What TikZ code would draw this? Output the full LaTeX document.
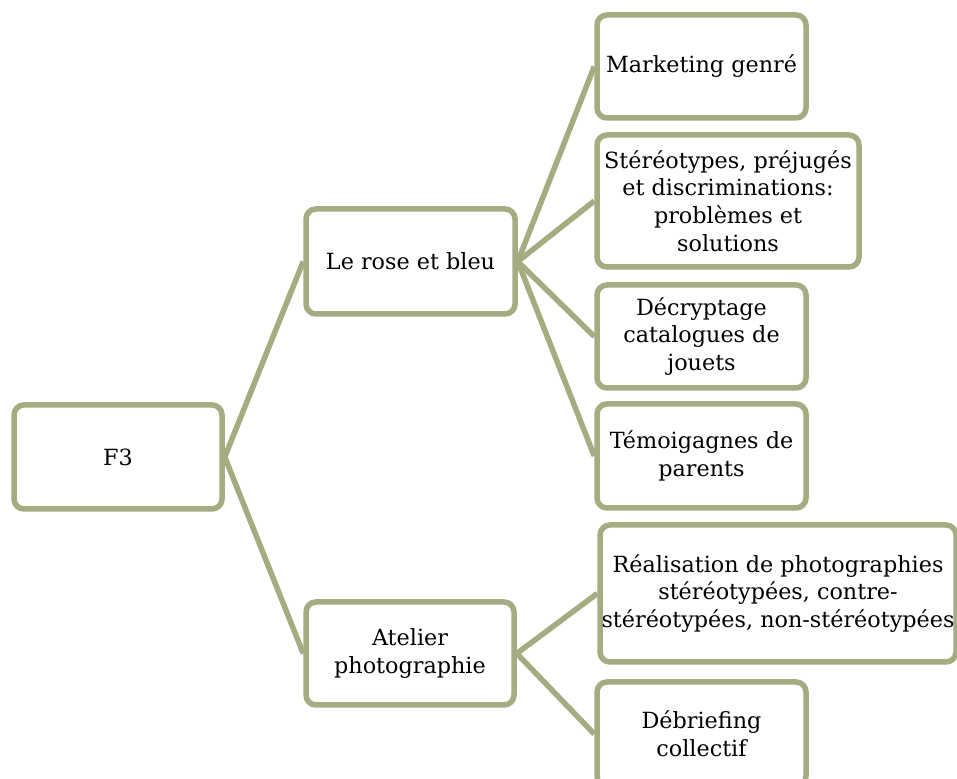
\documentclass[tikz,border=0pt]{standalone}
\usepackage{fontspec}
\setmainfont{DejaVu Serif}
\definecolor{olive}{RGB}{166,171,130}
\begin{document}
\begin{tikzpicture}[x=1pt,y=1pt,
  box/.style={draw=olive, line width=5.5pt, rounded corners=10pt, fill=white,
    align=center, inner sep=0pt, font=\fontsize{22.3}{27.7}\selectfont},
  link/.style={draw=olive, line width=5.5pt}]
\useasboundingbox (0,0) rectangle (957,778);
\clip (0,0) rectangle (957,778);
% y_tikz = 778 - y_image
\node[box, minimum width=208pt, minimum height=104pt] (f3) at (118,321) {F3};
\node[box, minimum width=209pt, minimum height=105pt] (rose) at (410.5,516.5) {Le rose et bleu};
\node[box, minimum width=208pt, minimum height=103pt] (atelier) at (410,124.5) {Atelier\\photographie};
\node[box, minimum width=209pt, minimum height=103pt] (mkt) at (701.5,711.5) {Marketing genré};
\node[box, minimum width=262pt, minimum height=132pt] (stereo) at (728,577) {Stéréotypes, préjugés\\et discriminations:\\problèmes et\\solutions};
\node[box, minimum width=209pt, minimum height=103pt] (decr) at (701.5,441.5) {Décryptage\\catalogues de\\jouets};
\node[box, minimum width=209pt, minimum height=104pt] (temo) at (701.5,322) {Témoigagnes de\\parents};
\node[box, minimum width=356pt, minimum height=137pt] (real) at (778,184.5) {Réalisation de photographies\\stéréotypées, contre-\\stéréotypées, non-stéréotypées};
\node[box, minimum width=209pt, minimum height=104pt] (debr) at (701.5,44) {Débriefing\\collectif};
\draw[link] (f3.east) -- (rose.west);
\draw[link] (f3.east) -- (atelier.west);
\draw[link] (rose.east) -- (mkt.west);
\draw[link] (rose.east) -- (stereo.west);
\draw[link] (rose.east) -- (decr.west);
\draw[link] (rose.east) -- (temo.west);
\draw[link] (atelier.east) -- (real.west);
\draw[link] (atelier.east) -- (debr.west);
\end{tikzpicture}
\end{document}
